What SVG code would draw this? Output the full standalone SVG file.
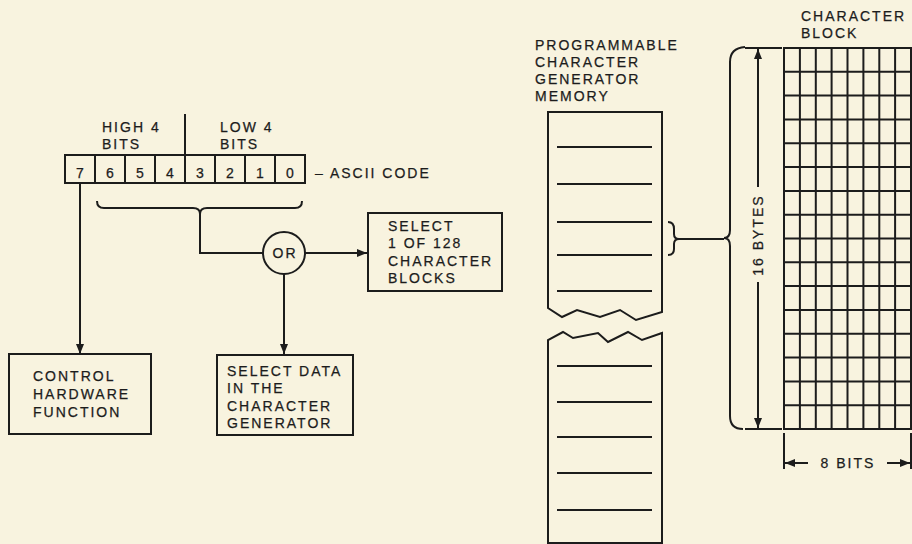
<svg xmlns="http://www.w3.org/2000/svg" width="912" height="544" viewBox="0 0 912 544">
<defs>
<style>
.ln{fill:none;stroke:#1c1c1c;stroke-width:2;stroke-linejoin:miter}
.t{font-family:"Liberation Sans",Arial,sans-serif;font-size:14px;fill:#1c1c1c;stroke:#1c1c1c;stroke-width:0.25;letter-spacing:2px}
.d{font-family:"Liberation Sans",Arial,sans-serif;font-size:14px;fill:#1c1c1c;stroke:#1c1c1c;stroke-width:0.25;text-anchor:middle}
.grid{fill:none;stroke:#1c1c1c;stroke-width:2}
</style>
<marker id="ah" viewBox="0 0 10 8" refX="10" refY="4" markerWidth="10" markerHeight="8" markerUnits="userSpaceOnUse" orient="auto">
<path d="M0,0 L10,4 L0,8 Z" fill="#1c1c1c"/>
</marker>
</defs>
<rect width="912" height="544" fill="#f8f3df"/>

<g id="ascii-code">
<rect class="ln" x="65" y="155" width="240" height="28"/>
<path class="ln" d="M95,155V183M125,155V183M155,155V183M185,155V183M215,155V183M245,155V183M275,155V183"/>
<path class="ln" d="M185,114V155"/>
<text class="d" x="80" y="178">7</text>
<text class="d" x="110" y="178">6</text>
<text class="d" x="140" y="178">5</text>
<text class="d" x="170" y="178">4</text>
<text class="d" x="200" y="178">3</text>
<text class="d" x="230" y="178">2</text>
<text class="d" x="260" y="178">1</text>
<text class="d" x="290" y="178">0</text>
<text class="t" x="102" y="132">HIGH 4</text>
<text class="t" x="102" y="149">BITS</text>
<text class="t" x="220" y="132">LOW 4</text>
<text class="t" x="220" y="149">BITS</text>
<text class="t" x="315" y="178">– ASCII CODE</text>
</g>

<g id="or-gate">
<circle class="ln" cx="284" cy="253" r="21"/>
<text class="d" x="285" y="258" style="letter-spacing:2px">OR</text>
</g>

<g id="select-block">
<rect class="ln" x="368" y="213" width="134" height="78"/>
<text class="t" x="388" y="231">SELECT</text>
<text class="t" x="388" y="248">1 OF 128</text>
<text class="t" x="388" y="266">CHARACTER</text>
<text class="t" x="388" y="283">BLOCKS</text>
</g>

<g id="control-hardware">
<rect class="ln" x="9" y="354" width="142" height="80"/>
<text class="t" x="33" y="381">CONTROL</text>
<text class="t" x="33" y="399">HARDWARE</text>
<text class="t" x="33" y="417">FUNCTION</text>
</g>

<g id="select-data">
<rect class="ln" x="217" y="355" width="136" height="80"/>
<text class="t" x="227" y="376">SELECT DATA</text>
<text class="t" x="227" y="393">IN THE</text>
<text class="t" x="227" y="411">CHARACTER</text>
<text class="t" x="227" y="428">GENERATOR</text>
</g>

<g id="memory">
<text class="t" x="535" y="50">PROGRAMMABLE</text>
<text class="t" x="535" y="67">CHARACTER</text>
<text class="t" x="535" y="84">GENERATOR</text>
<text class="t" x="535" y="101">MEMORY</text>
<path class="ln" d="M548,308V112H662V312L636,320L620,310L600,317L577,310L562,317Z"/>
<path class="ln" d="M548,545V340L563,332L573,338L598,333L608,342L628,332L642,340L662,333V545M548,543H662"/>
<path class="ln" d="M557,147H652M557,184H652M557,222H652M557,255H652M557,291H652M557,366H652M557,402H652M557,437H652M557,473H652M557,510H652"/>
</g>

<g id="character-block">
<text class="t" x="801" y="21">CHARACTER</text>
<text class="t" x="801" y="38">BLOCK</text>
<rect class="grid" x="784" y="48" width="127" height="381"/>
<path class="grid" d="M799.9,48V429M815.8,48V429M831.6,48V429M847.5,48V429M863.4,48V429M879.3,48V429M895.1,48V429"/>
<path class="grid" d="M784,71.8H911M784,95.6H911M784,119.4H911M784,143.3H911M784,167.1H911M784,190.9H911M784,214.7H911M784,238.5H911M784,262.3H911M784,286.1H911M784,309.9H911M784,333.8H911M784,357.6H911M784,381.4H911M784,405.2H911"/>
<path class="ln" d="M745,48H782M745,429H782"/>
<text class="d" transform="translate(763,235) rotate(-90)" style="letter-spacing:2px">16 BYTES</text>
<path class="ln" d="M784,433V469M911,433V469"/>
<text class="d" x="848" y="468" style="letter-spacing:2px">8 BITS</text>
</g>

<g id="connectors">
<path class="ln" d="M97,201Q97,208 104,208L193,208Q200,208 200,214Q200,208 207,208L295,208Q302,208 302,201"/>
<path class="ln" d="M200,214V253H263"/>
<path class="ln" d="M305,253H367" marker-end="url(#ah)"/>
<path class="ln" d="M284,274V354" marker-end="url(#ah)"/>
<path class="ln" d="M80,183V354" marker-end="url(#ah)"/>
<path class="ln" d="M668,222Q674,222 674,229V234Q674,239 679,239Q674,239 674,244V249Q674,255 668,255"/>
<path class="ln" d="M679,239H724"/>
<path class="ln" d="M745,47Q730,48 730,62V230Q730,238 724,238Q730,238 730,246V416Q730,429 743,429"/>
<path class="ln" d="M758,187V49" marker-end="url(#ah)"/>
<path class="ln" d="M758,282V428" marker-end="url(#ah)"/>
<path class="ln" d="M808,463H785" marker-end="url(#ah)"/>
<path class="ln" d="M887,463H910" marker-end="url(#ah)"/>
</g>
</svg>
